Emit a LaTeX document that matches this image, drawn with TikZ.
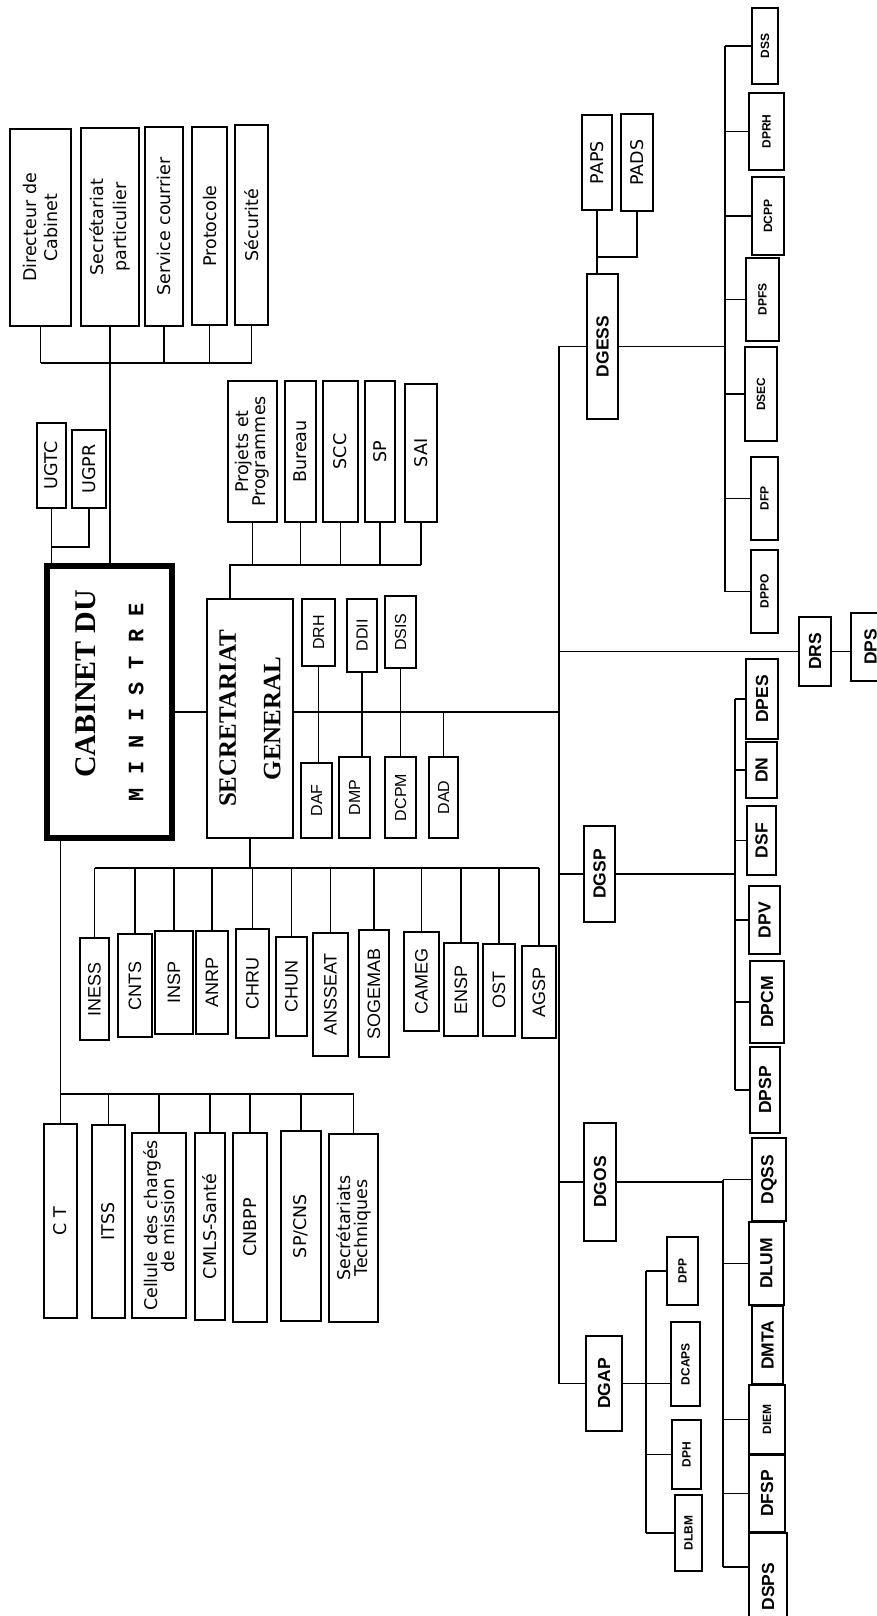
\documentclass[tikz,border=0pt]{standalone}
\usepackage{fontspec}
\setmainfont{Liberation Serif}
\setsansfont{DejaVu Sans}
\setmonofont{Liberation Mono}
\newfontfamily\arialfont{Liberation Sans}
\usetikzlibrary{fit}

\begin{document}
\begin{tikzpicture}[
        x=1pt, y=-1pt,
        box/.style={draw, fill=white, line width=2.6pt, inner sep=0pt},
        vlab/.style={rotate=90, align=center, inner sep=0pt},
        txtbox/.style={box, label={[vlab, font=\sffamily\fontsize{17.5}{17}\selectfont]center:#1}},
        orgbox/.style={box, label={[vlab, font=\arialfont\fontsize{18}{20}\selectfont]center:#1}},
        dirbox/.style={box, label={[vlab, font=\arialfont\fontsize{16}{17}\selectfont]center:#1}},
        dgbox/.style={box, line width=1.3pt, label={[vlab, font=\arialfont\bfseries\fontsize{17.5}{18}\selectfont]center:#1}},
        subbox/.style={box, line width=2.8pt, label={[vlab, font=\arialfont\bfseries\fontsize{17.5}{18}\selectfont]center:#1}},
        smallbox/.style={box, line width=2.6pt, label={[vlab, font=\arialfont\bfseries\fontsize{12}{13}\selectfont]center:#1}},
        conn/.style={line width=1.5pt}
    ]
        \useasboundingbox (0,0) rectangle (877,1616);
        \fill[white] (0,0) rectangle (877,1616);

        % cabinet and secretariat general
        \node[box, line width=6.5pt, fit={(47,566) (172,838)},
            label={[vlab, font=\bfseries\fontsize{30}{31}\selectfont]center:\hspace*{36pt}CABINET DU\\[17pt]{\fontsize{22}{24}\selectfont\ttfamily\bfseries M I N I S T R E}}] (cab) {};
        \node[box, line width=2.6pt, fit={(207,599) (293,838)},
            label={[vlab, font=\bfseries\fontsize{25}{27}\selectfont]center:SECRETARIAT\\[17.5pt]GENERAL}] (sg) {};

        % services of the cabinet
        \node[txtbox={Directeur de\\[4pt]Cabinet}, fit={(10,129) (71,326)}] (dircab) {};
        \node[txtbox={Secrétariat\\[6pt]particulier}, fit={(81,128) (139,326)}] (secpart) {};
        \node[txtbox={Service courrier}, fit={(145,127) (183,326)}] (courrier) {};
        \node[txtbox={Protocole}, fit={(192,127) (227,325)}] (protocole) {};
        \node[txtbox={Sécurité}, fit={(235,125) (268,325)}] (securite) {};
        \node[txtbox={UGTC}, fit={(37,423) (66,508)}] (ugtc) {};
        \node[txtbox={UGPR}, fit={(72,430) (106,508)}] (ugpr) {};

        \node[txtbox={C T}, fit={(44,1124) (77,1318)}] (ct) {};
        \node[txtbox={ITSS}, fit={(92,1125) (125,1318)}] (itss) {};
        \node[txtbox={Cellule des chargés\\de mission}, fit={(132,1133) (186,1318)}] (cellule) {};
        \node[txtbox={CMLS-Santé}, fit={(195,1133) (225,1320)}] (cmls) {};
        \node[txtbox={CNBPP}, fit={(233,1133) (267,1322)}] (cnbpp) {};
        \node[txtbox={SP/CNS}, fit={(281,1131) (321,1321)}] (spcns) {};
        \node[txtbox={Secrétariats\\Techniques}, fit={(329,1134) (378,1322)}] (sectech) {};

        % services of the SG
        \node[txtbox={Projets et\\Programmes}, fit={(228,381) (277,522)}] (projets) {};
        \node[txtbox={Bureau}, fit={(285,381) (316,522)}] (bureau) {};
        \node[txtbox={SCC}, fit={(323,381) (358,522)}] (scc) {};
        \node[txtbox={SP}, fit={(365,381) (395,522)}] (sp) {};
        \node[txtbox={SAI}, fit={(405,384) (437,522)}] (sai) {};

        \node[dirbox={DRH}, fit={(302,599) (335,666)}] (drh) {};
        \node[dirbox={DDII}, fit={(347,599) (377,672)}] (ddii) {};
        \node[dirbox={DSIS}, fit={(385,596) (416,668)}] (dsis) {};
        \node[dirbox={DAF}, fit={(301,763) (332,838)}] (daf) {};
        \node[dirbox={DMP}, fit={(339,757) (370,838)}] (dmp) {};
        \node[dirbox={DCPM}, fit={(385,757) (416,838)}] (dcpm) {};
        \node[dirbox={DAD}, line width=1.3pt, fit={(429,757) (458,838)}] (dad) {};

        \node[orgbox={INESS}, fit={(80,938) (109,1040)}] (iness) {};
        \node[orgbox={CNTS}, fit={(118,934) (152,1037)}] (cnts) {};
        \node[orgbox={INSP}, fit={(155,931) (193,1034)}] (insp) {};
        \node[orgbox={ANRP}, line width=1.6pt, fit={(196,931) (228,1034)}] (anrp) {};
        \node[orgbox={CHRU}, fit={(236,929) (269,1038)}] (chru) {};
        \node[orgbox={CHUN}, fit={(276,937) (307,1036)}] (chun) {};
        \node[orgbox={ANSSEAT}, fit={(313,933) (348,1056)}] (ansseat) {};
        \node[orgbox={SOGEMAB}, fit={(359,930) (389,1057)}] (sogemab) {};
        \node[orgbox={CAMEG}, fit={(404,932) (439,1031)}] (cameg) {};
        \node[orgbox={ENSP}, fit={(444,943) (478,1036)}] (ensp) {};
        \node[orgbox={OST}, fit={(483,944) (515,1036)}] (ost) {};
        \node[orgbox={AGSP}, fit={(522,946) (556,1038)}] (agsp) {};

        % general directorates
        \node[dgbox={DGESS}, fit={(587,274) (618,419)}] (dgess) {};
        \node[txtbox={PAPS}, fit={(582,115) (612,210)}] (paps) {};
        \node[txtbox={PADS}, fit={(621,114) (653,211)}] (pads) {};
        \node[smallbox={DSS}, fit={(752,8) (778,84)}] (dss) {};
        \node[smallbox={DPRH}, fit={(749,93) (784,170)}] (dprh) {};
        \node[smallbox={DCPP}, fit={(752,177) (784,255)}] (dcpp) {};
        \node[smallbox={DPFS}, fit={(746,258) (779,341)}] (dpfs) {};
        \node[smallbox={DSEC}, fit={(745,347) (777,441)}] (dsec) {};
        \node[smallbox={DFP}, fit={(751,457) (778,540)}] (dfp) {};
        \node[smallbox={DPPO}, fit={(751,550) (778,633)}] (dppo) {};

        \node[subbox={DRS}, fit={(799,617) (831,686)}] (drs) {};
        \node[subbox={DPS}, fit={(851,613) (890,681)}] (dps) {};

        \node[dgbox={DGSP}, fit={(584,826) (615,922)}] (dgsp) {};
        \node[subbox={DPES}, fit={(746,659) (778,739)}] (dpes) {};
        \node[subbox={DN}, fit={(746,742) (777,798)}] (dn) {};
        \node[subbox={DSF}, fit={(747,806) (776,875)}] (dsf) {};
        \node[subbox={DPV}, fit={(749,886) (780,954)}] (dpv) {};
        \node[subbox={DPCM}, fit={(750,961) (784,1043)}] (dpcm) {};
        \node[subbox={DPSP}, fit={(750,1047) (780,1133)}] (dpsp) {};

        \node[dgbox={DGOS}, fit={(584,1123) (616,1241)}] (dgos) {};
        \node[subbox={DQSS}, fit={(752,1138) (786,1221)}] (dqss) {};
        \node[subbox={DLUM}, fit={(749,1222) (784,1305)}] (dlum) {};
        \node[subbox={DMTA}, fit={(752,1306) (783,1384)}] (dmta) {};
        \node[smallbox={DIEM}, line width=2.8pt, fit={(749,1385) (785,1454)}] (diem) {};
        \node[subbox={DFSP}, fit={(749,1455) (785,1532)}] (dfsp) {};
        \node[subbox={DSPS}, fit={(749,1533) (787,1640)}] (dsps) {};

        \node[dgbox={DGAP}, line width=2.4pt, fit={(586,1336) (622,1431)}] (dgap) {};
        \node[smallbox={DPP}, fit={(667,1237) (698,1305)}] (dpp) {};
        \node[smallbox={DCAPS}, fit={(671,1322) (700,1406)}] (dcaps) {};
        \node[smallbox={DPH}, fit={(672,1420) (701,1489)}] (dph) {};
        \node[smallbox={DLBM}, fit={(675,1495) (702,1571)}] (dlbm) {};

        % bus lines
        \coordinate (topbus) at (0,363);
        \coordinate (ugprhook) at (0,547);
        \coordinate (sgup) at (230,565);
        \coordinate (sgline) at (0,712);
        \coordinate (sgdown) at (0,868);
        \coordinate (cabdown) at (0,1094);
        \coordinate (spine) at (559,0);
        \coordinate (papsbus) at (0,257);
        \coordinate (gessbus) at (725,0);
        \coordinate (gspbus) at (735,0);
        \coordinate (gosbus) at (723,0);
        \coordinate (gosend) at (723,1567);
        \coordinate (gapbus) at (646,0);

        \draw[conn] (dircab.south |- topbus) -- (securite.south |- topbus);
        \foreach \n in {dircab,courrier,protocole,securite}
            \draw[conn] (\n.south) -- (\n.south |- topbus);
        \draw[conn] (secpart.south) -- (secpart.south |- cab.north);
        \draw[conn] (ugtc.south) -- (ugtc.south |- cab.north);
        \draw[conn] (ugpr.south) |- (ugtc.south |- ugprhook);

        \draw[conn] (cab.east |- sgline) -- (sg.west |- sgline);
        \draw[conn] (sg.east |- sgline) -- (spine |- sgline);
        \draw[conn] (sg.north -| sgup) -- (sgup) -- (sai.south |- sgup);
        \foreach \n in {projets,bureau,scc,sp,sai}
            \draw[conn] (\n.south) -- (\n.south |- sgup);

        \draw[conn] (drh.south) -- (drh.south |- daf.north);
        \draw[conn] (ddii.south) -- (ddii.south |- dmp.north);
        \draw[conn] (dsis.south) -- (dsis.south |- dcpm.north);
        \draw[conn] (dad.north) -- (dad.north |- sgline);

        \draw[conn] (sg.south) -- (sg.south |- sgdown);
        \draw[conn] (iness.north |- sgdown) -- (agsp.north |- sgdown);
        \foreach \n in {iness,cnts,insp,anrp,chru,chun,ansseat,sogemab,cameg,ensp,ost,agsp}
            \draw[conn] (\n.north) -- (\n.north |- sgdown);

        \draw[conn] (cab.south -| ct.north) -- (ct.north);
        \draw[conn] (ct.north |- cabdown) -- (sectech.north |- cabdown);
        \foreach \n in {itss,cellule,cmls,cnbpp,spcns,sectech}
            \draw[conn] (\n.north) -- (\n.north |- cabdown);

        % spine to the general directorates
        \draw[conn] (dgess.west) -- (dgess.west -| spine) -- (dgap.west -| spine) -- (dgap.west);
        \foreach \n in {drs,dgsp,dgos}
            \draw[conn] (\n.west) -- (\n.west -| spine);

        \draw[conn] (paps.south) -- (paps.south |- dgess.north);
        \draw[conn] (pads.south) |- (paps.south |- papsbus);
        \draw[conn] (dgess.east) -- (dgess.east -| gessbus);
        \draw[conn] (dss.west -| gessbus) -- (dppo.west -| gessbus);
        \foreach \n in {dss,dprh,dcpp,dpfs,dsec,dfp,dppo}
            \draw[conn] (\n.west) -- (\n.west -| gessbus);
        \draw[conn] (drs.east) -- (drs.east -| dps.west);

        \draw[conn] (dgsp.east) -- (dgsp.east -| gspbus);
        \draw[conn] (dpes.west -| gspbus) -- (dpsp.west -| gspbus);
        \foreach \n in {dpes,dn,dsf,dpv,dpcm,dpsp}
            \draw[conn] (\n.west) -- (\n.west -| gspbus);

        \draw[conn] (dgos.east) -- (dgos.east -| gosbus);
        \draw[conn] (dqss.west -| gosbus) -- (gosend);
        \foreach \n in {dqss,dlum,diem,dfsp}
            \draw[conn] (\n.west) -- (\n.west -| gosbus);
        \draw[conn] (gosend) -- (gosend -| dsps.west);

        \draw[conn] (dgap.east) -- (dgap.east -| dcaps.west);
        \draw[conn] (dpp.west -| gapbus) -- (dlbm.west -| gapbus);
        \foreach \n in {dpp,dph,dlbm}
            \draw[conn] (\n.west) -- (\n.west -| gapbus);
    \end{tikzpicture}
\end{document}
